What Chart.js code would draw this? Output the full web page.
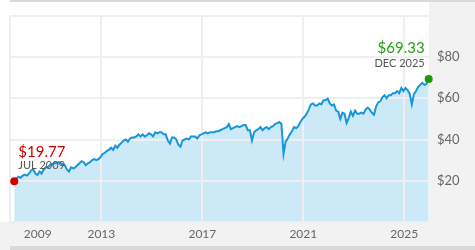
<!DOCTYPE html>
<html>
<head>
<meta charset="utf-8">
<script src="https://cdn.jsdelivr.net/npm/chart.js@4"></script>
<style>
  html, body { margin: 0; padding: 0; background: #fff; }
  #wrap { position: relative; width: 475px; height: 250px; overflow: hidden; background: #fff; }
  #wrap div { position: absolute; }
  canvas { position: absolute; left: 0; top: 0; }
</style>
</head>
<body>
<div id="wrap">
  <div style="left:10px;top:0;width:465px;height:2px;background:#d9d9d9"></div>
  <div style="left:429px;top:2px;width:46px;height:248px;background:#f2f2f2"></div>
  <div style="left:0;top:222px;width:475px;height:28px;background:#f2f2f2"></div>
  <div style="left:10px;top:246px;width:465px;height:4px;background:#d9d9d9"></div>
  <canvas id="chart" width="475" height="250"></canvas>
</div>
<script>
// Monthly closing prices, Jul 2009 .. Dec 2025
const startYear = 2009;
const startMonth = 7;
const prices = [
  19.77, 21.0, 22.0, 21.5, 22.5, 23.0,                              // 2009
  22.5, 23.5, 25.0, 25.5, 23.5, 22.8, 24.5, 23.5, 25.5, 26.5, 26.5, 27.8, // 2010
  28.0, 28.6, 28.5, 29.0, 28.6, 28.0, 27.5, 25.5, 24.5, 26.5, 26.0, 26.5, // 2011
  27.5, 28.5, 29.5, 29.0, 27.5, 28.5, 29.0, 30.0, 30.5, 30.0, 30.5, 31.5, // 2012
  33.0, 33.5, 34.5, 35.0, 36.0, 35.0, 37.0, 36.0, 37.5, 38.5, 39.5, 40.0, // 2013
  39.0, 40.5, 41.0, 41.0, 41.5, 42.5, 41.5, 42.5, 41.5, 42.0, 43.0, 42.5, // 2014
  41.5, 43.5, 43.0, 43.5, 43.5, 42.5, 42.5, 39.5, 38.0, 41.0, 41.0, 40.0, // 2015
  37.5, 36.5, 39.5, 40.0, 40.5, 40.0, 41.5, 41.5, 41.5, 40.5, 42.0, 42.5, // 2016
  43.0, 43.5, 43.0, 43.5, 43.5, 43.5, 44.0, 44.0, 44.5, 45.0, 45.5, 46.0, // 2017
  47.5, 45.0, 45.5, 46.0, 46.5, 46.0, 46.5, 47.0, 47.0, 44.5, 44.5, 39.5, // 2018
  43.5, 44.5, 45.0, 46.0, 44.5, 45.5, 46.0, 45.0, 46.0, 46.5, 47.5, 48.0, // 2019
  48.5, 47.5, 33.0, 39.0, 40.5, 42.5, 44.0, 46.0, 45.5, 46.5, 48.5, 50.0, // 2020
  51.0, 52.5, 54.5, 57.0, 57.5, 56.5, 56.5, 57.5, 57.0, 59.0, 59.0, 59.8, // 2021
  57.5, 56.5, 57.0, 54.0, 53.5, 50.0, 53.0, 52.5, 48.0, 50.5, 53.5, 51.5, // 2022
  54.0, 52.5, 52.5, 53.0, 52.5, 54.5, 55.5, 54.5, 53.0, 52.0, 56.0, 58.0, // 2023
  58.5, 60.5, 61.5, 60.0, 61.5, 61.5, 62.5, 62.5, 63.5, 62.5, 65.0, 63.5, // 2024
  65.0, 64.0, 62.0, 57.0, 62.0, 63.5, 65.5, 66.5, 67.5, 66.5, 67.0, 69.33 // 2025
];
const xTickYears = [2009, 2013, 2017, 2021, 2025];
const endDates = ['JUL 2009', 'DEC 2025'];

const GRID = '#efefef';
Chart.defaults.font.family = 'Lato';

const points = prices.map((p, i) => ({
  x: startYear + (startMonth - 1 + i) / 12 + 0.05,
  y: p
}));
const last = points.length - 1;

// start / end price labels
const endLabels = {
  id: 'endLabels',
  afterDatasetsDraw(chart) {
    const ctx = chart.ctx;
    const meta = chart.getDatasetMeta(0);
    const a = meta.data[0], b = meta.data[last];
    ctx.save();
    ctx.textBaseline = 'alphabetic';

    ctx.textAlign = 'left';
    ctx.fillStyle = '#cc0000';
    ctx.font = '15px Lato';
    ctx.fillText('$' + prices[0].toFixed(2), a.x + 4, a.y - 24);
    ctx.fillStyle = '#555';
    ctx.font = '11px Lato';
    ctx.fillText(endDates[0], a.x + 4, a.y - 12);

    ctx.textAlign = 'right';
    ctx.fillStyle = '#24a012';
    ctx.font = '15px Lato';
    ctx.fillText('$' + prices[last].toFixed(2), b.x - 4, b.y - 26);
    ctx.fillStyle = '#555';
    ctx.font = '11px Lato';
    ctx.fillText(endDates[1], b.x - 4, b.y - 12);
    ctx.restore();
  }
};

new Chart(document.getElementById('chart'), {
  type: 'line',
  data: {
    datasets: [{
      data: points,
      borderColor: '#1896dc',
      borderWidth: 2,
      backgroundColor: '#cce9f7',
      fill: 'origin',
      tension: 0,
      clip: false,
      pointRadius: ctx => (ctx.dataIndex === 0 || ctx.dataIndex === last) ? 4 : 0,
      pointBorderWidth: 0,
      pointBackgroundColor: ctx => ctx.dataIndex === 0 ? '#d40000' : '#1c9a00',
      pointBorderColor: 'transparent'
    }]
  },
  options: {
    responsive: false,
    animation: false,
    layout: { padding: { left: 10, top: 10, right: 0, bottom: 0 } },
    plugins: {
      legend: { display: false },
      tooltip: { enabled: false },
      filler: { drawTime: 'beforeDraw' }
    },
    scales: {
      x: {
        type: 'linear',
        min: 2009.38,
        max: 2025.98,
        border: { display: false },
        grid: {
          color: ctx => ctx.index === 1 ? 'transparent' : GRID,
          lineWidth: 2,
          drawTicks: false
        },
        afterBuildTicks: scale => {
          scale.ticks = [{ value: scale.min }].concat(
            xTickYears.map(y => ({ value: Math.max(y, scale.min + 1.1) })));
        },
        afterFit: scale => { scale.height = 28; },
        ticks: {
          padding: 5,
          color: '#666',
          font: { size: 12 },
          maxRotation: 0,
          autoSkip: false,
          callback: (v, i) => i === 0 ? '' : String(xTickYears[i - 1])
        }
      },
      y: {
        position: 'right',
        min: 0,
        max: 100,
        border: { display: false },
        grid: { color: GRID, lineWidth: 2, drawTicks: false },
        afterFit: scale => { scale.width = 46; },
        ticks: {
          stepSize: 20,
          padding: 8,
          color: '#666',
          font: { size: 13 },
          callback: v => (v === 0 || v === 100) ? '' : '$' + v
        }
      }
    }
  },
  plugins: [endLabels]
});
</script>
</body>
</html>
